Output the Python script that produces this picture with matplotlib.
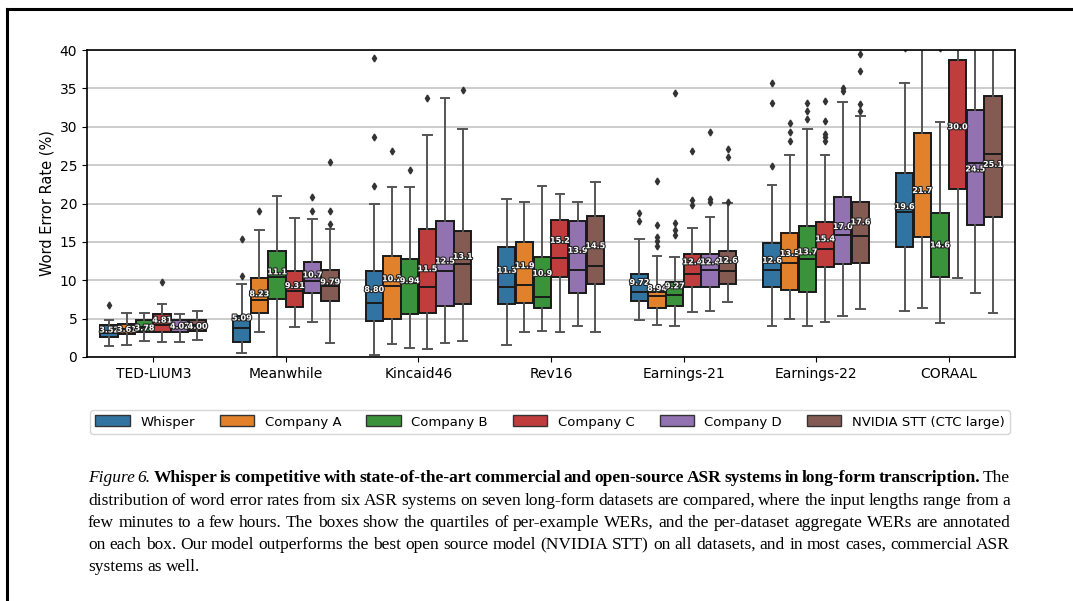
import matplotlib
matplotlib.use("Agg")
import matplotlib.pyplot as plt
import matplotlib.patheffects as pe
from matplotlib.lines import Line2D
from matplotlib.patches import Patch

DATASETS = ["TED-LIUM3", "Meanwhile", "Kincaid46", "Rev16", "Earnings-21", "Earnings-22", "CORAAL"]
SYSTEMS = ["Whisper", "Company A", "Company B", "Company C", "Company D", "NVIDIA STT (CTC large)"]
COLORS = ["#3274a1", "#e1812c", "#3a923a", "#c03d3e", "#9372b2", "#845b53"]

# per-dataset aggregate WER shown on each box
AGG_WER = [
    [3.52, 3.61, 3.78, 4.81, 4.02, 4.00],
    [5.09, 8.23, 11.1, 9.31, 10.7, 9.79],
    [8.80, 10.2, 9.94, 11.5, 12.5, 13.1],
    [11.3, 11.9, 10.9, 15.2, 13.9, 14.5],
    [9.72, 8.94, 9.27, 12.4, 12.4, 12.6],
    [12.6, 13.5, 13.7, 15.4, 17.0, 17.6],
    [19.6, 21.7, 14.6, 30.0, 24.5, 25.1],
]
Q1 = [
    [2.57, 3.0, 3.3, 3.3, 3.3, 3.43],
    [2.0, 5.78, 7.51, 6.47, 8.38, 7.34],
    [4.73, 5.0, 5.56, 5.69, 6.64, 6.9],
    [6.9, 7.08, 6.42, 10.47, 8.3, 9.51],
    [7.34, 6.42, 6.6, 9.08, 9.16, 9.51],
    [9.16, 8.73, 8.43, 11.69, 12.08, 12.29],
    [14.37, 15.6, 10.38, 21.9, 17.2, 18.2],
]
MEDIAN = [
    [3.08, 3.6, 3.95, 4.17, 3.95, 4.17],
    [3.82, 7.43, 10.47, 8.64, 9.94, 9.25],
    [7.08, 9.25, 9.6, 9.08, 11.16, 12.08],
    [9.16, 9.38, 7.78, 12.86, 11.34, 11.86],
    [8.51, 7.95, 8.08, 10.81, 11.34, 11.25],
    [11.34, 12.29, 12.73, 14.03, 15.94, 15.8],
    [18.93, 21.5, 14.6, 30.2, 25.3, 26.5],
]
Q3 = [
    [4.17, 4.3, 4.82, 5.6, 4.82, 4.82],
    [5.34, 10.25, 13.85, 11.25, 12.34, 11.34],
    [11.25, 13.2, 12.73, 16.64, 17.76, 16.38],
    [14.37, 14.94, 12.99, 17.85, 17.76, 18.41],
    [10.81, 8.51, 9.81, 13.42, 13.42, 13.85],
    [14.9, 16.2, 17.1, 17.55, 20.9, 20.15],
    [23.93, 29.2, 18.72, 38.7, 32.2, 34.0],
]
WHIS_LO = [
    [1.48, 1.56, 2.13, 2.0, 2.0, 2.2],
    [0.48, 3.3, 0.0, 3.86, 4.6, 1.87],
    [0.26, 1.7, 1.13, 1.08, 1.78, 2.13],
    [1.6, 3.2, 3.43, 3.2, 4.04, 3.2],
    [4.82, 4.13, 4.04, 5.82, 5.99, 7.17],
    [4.04, 5.0, 4.04, 4.6, 5.38, 6.3],
    [6.0, 6.42, 4.39, 10.33, 8.38, 5.69],
]
WHIS_HI = [
    [4.82, 5.78, 5.78, 6.86, 5.6, 6.0],
    [9.5, 16.55, 20.97, 18.07, 17.94, 16.64],
    [20.0, 22.2, 22.2, 28.9, 33.8, 29.7],
    [20.55, 20.24, 22.3, 21.24, 20.15, 22.76],
    [15.37, 13.2, 12.99, 16.77, 18.2, 20.1],
    [22.4, 26.27, 29.66, 26.3, 33.27, 31.4],
    [35.66, 47.0, 30.66, 55.0, 50.0, 52.0],
]
FLIERS = [
    [[6.77], [], [], [9.73], [], []],
    [[15.37, 10.6], [19.0], [], [], [20.9, 19.0], [25.45, 19.0, 17.3]],
    [[38.9, 28.7, 22.3], [26.9], [24.3], [33.8], [], [34.8]],
    [[], [], [], [], [], []],
    [[18.8, 17.7], [22.9, 17.2, 15.7, 15.1, 14.4], [34.35, 17.4, 16.6, 15.9],
     [26.9, 20.45, 19.8], [29.36, 20.6, 20.2], [27.06, 26.0, 20.2]],
    [[35.7, 33.1, 24.9], [30.5, 29.36, 28.1], [33.1, 32.1, 31.0],
     [33.4, 30.8, 29.1, 28.6, 28.2], [35.1, 34.6], [39.5, 37.3, 33.0, 32.0]],
    [[40.3], [], [40.3], [], [], []],
]
YTICKS = [0, 5, 10, 15, 20, 25, 30, 35, 40]

CAPTION = [
    [("Figure 6.", "italic", "normal"),
     ("Whisper is competitive with state-of-the-art commercial and open-source ASR systems in long-form transcription.", "normal", "bold"),
     ("The", "normal", "normal")],
    [("distribution of word error rates from six ASR systems on seven long-form datasets are compared, where the input lengths range from a", "normal", "normal")],
    [("few minutes to a few hours. The boxes show the quartiles of per-example WERs, and the per-dataset aggregate WERs are annotated", "normal", "normal")],
    [("on each box. Our model outperforms the best open source model (NVIDIA STT) on all datasets, and in most cases, commercial ASR", "normal", "normal")],
    [("systems as well.", "normal", "normal")],
]

W, H = 1073, 601
fig = plt.figure(figsize=(W / 100, H / 100), dpi=100)
ax = fig.add_axes([87 / W, 1 - 357 / H, (1015 - 87) / W, (357 - 50) / H])

n = len(SYSTEMS)
bw = 0.8 / n
for j in range(n):
    stats = []
    for i in range(len(DATASETS)):
        stats.append(dict(q1=Q1[i][j], med=MEDIAN[i][j], q3=Q3[i][j],
                          whislo=WHIS_LO[i][j], whishi=WHIS_HI[i][j], fliers=FLIERS[i][j]))
    pos = [i + (j - (n - 1) / 2) * bw for i in range(len(DATASETS))]
    ax.bxp(stats, positions=pos, widths=bw * 0.98, patch_artist=True, manage_ticks=False,
           boxprops=dict(facecolor=COLORS[j], edgecolor="#1a1a1a", linewidth=1.4),
           whiskerprops=dict(color="#555555", linewidth=1.4),
           capprops=dict(color="#555555", linewidth=1.4),
           medianprops=dict(color="#1a1a1a", linewidth=1.4),
           flierprops=dict(marker="d", markersize=3.5, markerfacecolor="#333333",
                           markeredgecolor="#333333"))
    for i in range(len(DATASETS)):
        v = AGG_WER[i][j]
        label = f"{v:.2f}" if v < 10 else f"{v:.1f}"
        ax.text(pos[i], v, label, ha="center", va="center", fontsize=5.8, color="white",
                fontweight="bold", zorder=5,
                path_effects=[pe.withStroke(linewidth=1.6, foreground="#222222")])

ax.set_xlim(-0.5, len(DATASETS) - 0.5)
ax.set_ylim(0, 40)
ax.set_yticks(YTICKS)
ax.set_xticks(range(len(DATASETS)))
ax.set_xticklabels(DATASETS, fontsize=10)
ax.tick_params(axis="y", labelsize=10)
ax.set_ylabel("Word Error Rate (%)", fontsize=10.5)
ax.yaxis.grid(True, color="#cccccc", linewidth=1.4)
ax.set_axisbelow(True)
for s in ax.spines.values():
    s.set_linewidth(1.2)

handles = [Patch(facecolor=c, edgecolor="#333333", linewidth=1.0) for c in COLORS]
fig.legend(handles, SYSTEMS, loc="center", ncol=n, mode="expand", fontsize=9.5,
           bbox_to_anchor=(90 / W, 1 - 436 / H, 920 / W, 28 / H),
           handlelength=2.6, handleheight=0.9, borderaxespad=0)

# page frame
fig.add_artist(Line2D([7 / W, 1], [1 - 9 / H, 1 - 9 / H], color="black", linewidth=2.2))
fig.add_artist(Line2D([7 / W, 7 / W], [0, 1 - 9 / H], color="black", linewidth=2.2))

# justified caption
fig.canvas.draw()
rend = fig.canvas.get_renderer()
left, right = 88, 1010
fs = 12.5


def measure(word, style, weight, size):
    t = fig.text(0, 0, word, family="Liberation Serif", style=style, fontweight=weight, fontsize=size)
    w = t.get_window_extent(rend).width
    t.remove()
    return w


for k, segs in enumerate(CAPTION):
    words = []
    for txt, style, weight in segs:
        for wd in txt.split():
            words.append((wd, style, weight))
    widths = [measure(wd, st, wt, fs) for wd, st, wt in words]
    space = measure("a a", "normal", "normal", fs) - measure("aa", "normal", "normal", fs)
    last = k == len(CAPTION) - 1
    gap = space if last else (right - left - sum(widths)) / (len(words) - 1)
    x = left
    y = 1 - (482.5 + 22.2 * k) / H
    for (wd, st, wt), w in zip(words, widths):
        fig.text(x / W, y, wd, family="Liberation Serif", style=st, fontweight=wt,
                 fontsize=fs, va="baseline", ha="left")
        x += w + gap

fig.savefig("out.png", dpi=100)
